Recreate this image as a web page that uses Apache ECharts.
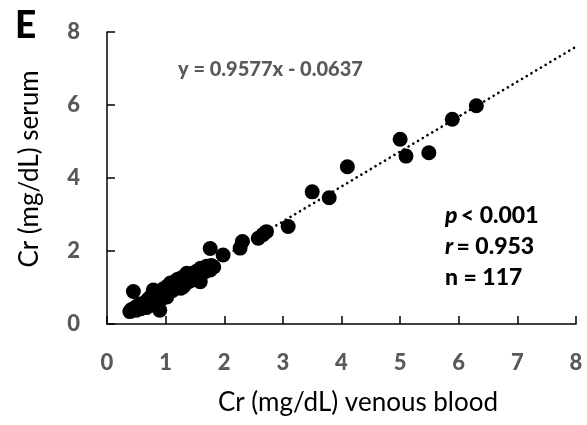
<!DOCTYPE html>
<html>
<head>
<meta charset="utf-8">
<script src="https://cdn.jsdelivr.net/npm/echarts@6/dist/echarts.min.js"></script>
<style>
html,body{margin:0;padding:0;background:#fff;}
#chart{width:587px;height:425px;}
</style>
</head>
<body>
<div id="chart"></div>
<script>
// Data (x = venous blood Cr, y = serum Cr)
var venous = [
  6.30,5.89,5.49,5.10,5.00,4.10,3.79,3.50,3.09,
  2.72,2.66,2.58,2.31,2.27,1.98,1.76,
  0.39,0.42,0.45,0.48,0.50,0.52,0.55,0.57,0.58,0.60,
  0.62,0.64,0.65,0.67,0.68,0.70,0.71,0.72,0.74,0.75,
  0.76,0.78,0.79,0.80,0.81,0.82,0.84,0.85,0.86,0.88,
  0.89,0.90,0.90,0.92,0.93,0.94,0.95,0.96,0.98,1.00,
  1.00,1.02,1.03,1.05,1.06,1.08,1.09,1.10,1.12,1.13,
  1.15,1.16,1.18,1.20,1.21,1.23,1.25,1.26,1.28,1.30,
  1.31,1.33,1.35,1.36,1.38,1.40,1.42,1.44,1.45,1.48,
  1.50,1.52,1.54,1.56,1.58,1.59,1.60,1.62,1.65,1.68,
  1.70,1.72,1.76,1.78,1.82,
  0.47,0.53,0.63,0.69,0.73,0.77,0.83,0.87,0.97,1.04,
  1.11,1.19,1.27,1.34,1.41,1.57
];
var serum = [
  5.98,5.61,4.69,4.60,5.06,4.31,3.46,3.62,2.67,
  2.53,2.45,2.35,2.26,2.08,1.89,2.07,
  0.34,0.40,0.89,0.45,0.38,0.50,0.45,0.55,0.42,0.52,
  0.48,0.58,0.54,0.45,0.60,0.68,0.55,0.64,0.60,0.76,
  0.68,0.52,0.93,0.72,0.62,0.80,0.70,0.85,0.75,0.66,
  0.82,0.38,0.90,0.78,0.86,0.70,0.95,0.84,0.90,0.80,
  1.00,0.74,0.92,1.05,0.88,1.12,0.98,1.04,0.92,1.10,
  1.15,1.00,1.08,1.22,1.05,1.14,1.25,0.98,1.18,1.02,
  1.30,1.22,1.12,1.39,1.25,1.32,1.18,1.36,1.28,1.40,
  1.22,1.44,1.30,1.38,1.48,1.16,1.53,1.40,1.50,1.44,
  1.58,1.52,1.48,1.60,1.56,
  0.42,0.48,0.45,0.50,0.56,0.62,0.66,0.72,0.82,0.86,
  0.96,1.02,1.08,1.16,1.24,1.36
];
var slope = 0.9577;
var intercept = -0.0637;
var xTicks = [0,1,2,3,4,5,6,7,8];
var yTicks = [0,2,4,6,8];

var points = venous.map(function(v,i){ return [v, serum[i]]; });
var xMinData = Math.min.apply(null, venous);
var trend = [[xMinData, slope*xMinData+intercept],[8, slope*8+intercept]];

var FONT = 'Lato';
var GRAY = '#595959';
var chart = echarts.init(document.getElementById('chart'), null, {renderer:'canvas'});
chart.setOption({
  animation:false,
  backgroundColor:'#fff',
  grid:{left:107, right:11, top:32, bottom:101, containLabel:false},
  xAxis:{
    type:'value', min:xTicks[0], max:xTicks[xTicks.length-1], interval:1,
    axisLine:{show:true, onZero:false, lineStyle:{color:'#000', width:1.5}},
    axisTick:{show:true, inside:true, length:8, lineStyle:{color:'#000', width:1.5}},
    axisLabel:{color:GRAY, fontFamily:FONT, fontWeight:900, fontSize:22, margin:28},
    splitLine:{show:false}
  },
  yAxis:{
    type:'value', min:yTicks[0], max:yTicks[yTicks.length-1], interval:2,
    axisLine:{show:true, onZero:false, lineStyle:{color:'#000', width:1.5}},
    axisTick:{show:true, inside:true, length:8, lineStyle:{color:'#000', width:1.5}},
    axisLabel:{color:GRAY, fontFamily:FONT, fontWeight:900, fontSize:22, margin:27},
    splitLine:{show:false}
  },
  series:[
    {
      type:'line', data:trend, showSymbol:false, symbol:'none', z:1,
      lineStyle:{color:'#000', width:2.6, type:[0.1,5.4], cap:'round'},
      silent:true
    },
    {
      type:'scatter', data:points, symbol:'circle', symbolSize:15, z:3,
      itemStyle:{color:'#000', opacity:1}
    }
  ],
  graphic:[
    {type:'text', left:15, top:8, style:{text:'E', fill:'#000', font:'900 37px Lato'}},
    {type:'text', x:178, y:70, style:{text:'y = 0.9577x - 0.0637', fill:GRAY, font:'900 20px Lato', verticalAlign:'middle'}},
    {type:'text', x:445, y:216, style:{
      text:'{i|p} {n|< 0.001}', verticalAlign:'middle',
      rich:{i:{font:'italic 900 23px Lato', fill:'#000'}, n:{font:'900 23px Lato', fill:'#000'}}
    }},
    {type:'text', x:445, y:247, style:{
      text:'{i|r} {n|= 0.953}', verticalAlign:'middle',
      rich:{i:{font:'italic 900 23px Lato', fill:'#000'}, n:{font:'900 23px Lato', fill:'#000'}}
    }},
    {type:'text', x:445, y:278, style:{text:'n = 117', fill:'#000', font:'900 23px Lato', verticalAlign:'middle'}},
    {type:'text', x:358, y:403, style:{text:'Cr (mg/dL) venous blood', fill:'#000', font:'26px Lato', align:'center', verticalAlign:'middle'}},
    {type:'text', x:30, y:169, rotation:Math.PI/2, style:{text:'Cr (mg/dL) serum', fill:'#000', font:'26px Lato', align:'center', verticalAlign:'middle'}}
  ]
});
</script>
</body>
</html>
